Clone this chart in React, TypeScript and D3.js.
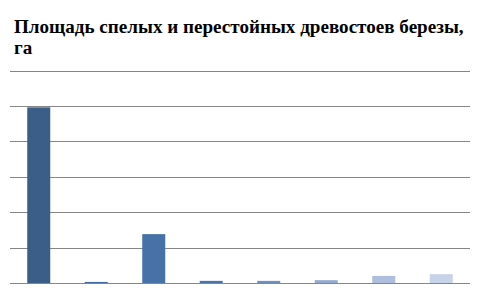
import React from "react";
import * as d3 from "d3";

const categories = ["1", "2", "3", "4", "5", "6", "7", "8"];
const values = [4.96, 0.03, 1.38, 0.06, 0.06, 0.08, 0.2, 0.25];
const colors = ["#3a5e87", "#4068a0", "#4672a8", "#4a74ad", "#6f8fc0", "#94abd2", "#adbfdc", "#c7d3e8"];
const ticks = [0, 1, 2, 3, 4, 5, 6];
const titleLines = ["Площадь спелых и перестойных древостоев березы,", "га"];

export default function App() {
  const W = 480, H = 288;
  const left = 10, right = 470, top = 70.5, bottom = 283;
  const x = d3.scaleBand<string>().domain(categories).range([left, right]).paddingInner(0.6).paddingOuter(0.3);
  const y = d3.scaleLinear().domain([0, 6]).range([bottom, top]);
  return (
    <svg width={W} height={H} style={{ position: "absolute", left: 0, top: 0, background: "#fff" }}>
      {titleLines.map((t, i) => (
        <text key={i} x={14} y={33 + i * 21} fontFamily="Liberation Serif" fontWeight="bold" fontSize={19.1} fill="#000">{t}</text>
      ))}
      {ticks.map((t) => (
        <line key={t} x1={left} x2={right} y1={Math.round(y(t)) + 0.5} y2={Math.round(y(t)) + 0.5} stroke="#868686" strokeWidth={1} />
      ))}
      {categories.map((c, i) => (
        <rect key={c} x={x(c)} width={x.bandwidth()} y={y(values[i])} height={bottom - y(values[i])} fill={colors[i]} />
      ))}
    </svg>
  );
}
